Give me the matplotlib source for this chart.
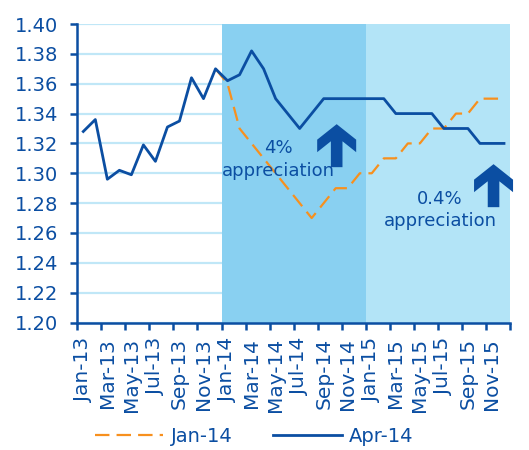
import numpy as np
import matplotlib
matplotlib.use("Agg")
import matplotlib.pyplot as plt
import matplotlib.transforms as mtransforms
from matplotlib.patches import Polygon

months = [m + "-" + y for y in ["13", "14", "15"]
          for m in ["Jan", "Feb", "Mar", "Apr", "May", "Jun",
                    "Jul", "Aug", "Sep", "Oct", "Nov", "Dec"]]

# Apr-14 series (history + forecast)
apr14 = [1.328, 1.336, 1.296, 1.302, 1.299, 1.319, 1.308, 1.331, 1.335, 1.364, 1.350, 1.370,
         1.362, 1.366, 1.382, 1.370, 1.350, 1.340, 1.330, 1.340, 1.350, 1.350, 1.350, 1.350,
         1.350, 1.350, 1.340, 1.340, 1.340, 1.340, 1.330, 1.330, 1.330, 1.320, 1.320, 1.320]

# Jan-14 forecast, starts at Dec-13
jan14 = [np.nan] * 11 + [1.370,
         1.360, 1.330, 1.320, 1.310, 1.300, 1.290, 1.280, 1.270, 1.280, 1.290, 1.290, 1.300,
         1.300, 1.310, 1.310, 1.320, 1.320, 1.330, 1.330, 1.340, 1.340, 1.350, 1.350, 1.350]

tick_labels = months[::2]
y_ticks = [1.20, 1.22, 1.24, 1.26, 1.28, 1.30, 1.32, 1.34, 1.36, 1.38, 1.40]

navy = "#0b4ea2"
orange = "#f7901e"
dark_shade = "#89d0f1"
light_shade = "#b3e4f7"
grid_col = "#c0e7f7"

fig = plt.figure(figsize=(5.29, 4.5), dpi=100)
ax = fig.add_axes([0.1461, 0.2833, 0.818, 0.6633])

x = np.arange(len(months))
ax.set_xlim(-0.5, len(months) - 0.5)
ax.set_ylim(1.20, 1.40)

for yv in y_ticks:
    ax.axhline(yv, color=grid_col, lw=1.6, zorder=0)
ax.axvspan(11.5, 23.5, color=dark_shade, lw=0, zorder=1)
ax.axvspan(23.5, 35.5, color=light_shade, lw=0, zorder=1)

ax.plot(x, jan14, color=orange, lw=1.6, dashes=(6.5, 3.2), zorder=3, label="Jan-14")
ax.plot(x, apr14, color=navy, lw=2.0, zorder=4, label="Apr-14")

# axes styling
for s in ["top", "right"]:
    ax.spines[s].set_visible(False)
for s in ["left", "bottom"]:
    ax.spines[s].set_color(navy)
    ax.spines[s].set_linewidth(1.8)
    ax.spines[s].set_zorder(5)

ax.set_yticks(y_ticks)
ax.set_yticklabels(["%.2f" % v for v in y_ticks])
ax.tick_params(axis="y", direction="out", length=5, width=1.8, color=navy,
               labelcolor=navy, labelsize=14, pad=9)

ax.set_xticks(np.arange(-0.5, len(months), 2))
ax.set_xticklabels([])
ax.set_xticks(np.arange(0, len(months), 2), tick_labels, minor=True, rotation=90)
ax.tick_params(axis="x", which="major", direction="out", length=5, width=1.8, color=navy)
ax.tick_params(axis="x", which="minor", length=0, labelcolor=navy, labelsize=14.5, pad=11)

# annotations
ax.text(16.27, 1.317, "4%", color=navy, fontsize=13, ha="center", va="center", zorder=6)
ax.text(16.27, 1.3017, "appreciation", color=navy, fontsize=13, ha="center", va="center", zorder=6)
ax.text(29.67, 1.283, "0.4%", color=navy, fontsize=13, ha="center", va="center", zorder=6)
ax.text(29.67, 1.268, "appreciation", color=navy, fontsize=13, ha="center", va="center", zorder=6)

# thick up arrows, shape in pixels relative to the tip
arrow_shape = np.array([[0, 0], [19.5, -15.5], [19.5, -28], [5.8, -17.1], [5.8, -43],
                        [-5.8, -43], [-5.8, -17.1], [-19.5, -28], [-19.5, -15.5]])
for tip in [(21.08, 1.3329), (34.13, 1.3061)]:
    tr = mtransforms.Affine2D() + mtransforms.ScaledTranslation(tip[0], tip[1], ax.transData)
    ax.add_patch(Polygon(arrow_shape, closed=True, transform=tr, color=navy,
                         lw=0, zorder=6, clip_on=False))

leg = fig.legend(loc="center", bbox_to_anchor=(0.481, 0.031), ncol=2, frameon=False,
                 fontsize=14, handlelength=3.5, handletextpad=0.4, columnspacing=2.1)
for t in leg.get_texts():
    t.set_color(navy)

fig.savefig("out.png", dpi=100)
